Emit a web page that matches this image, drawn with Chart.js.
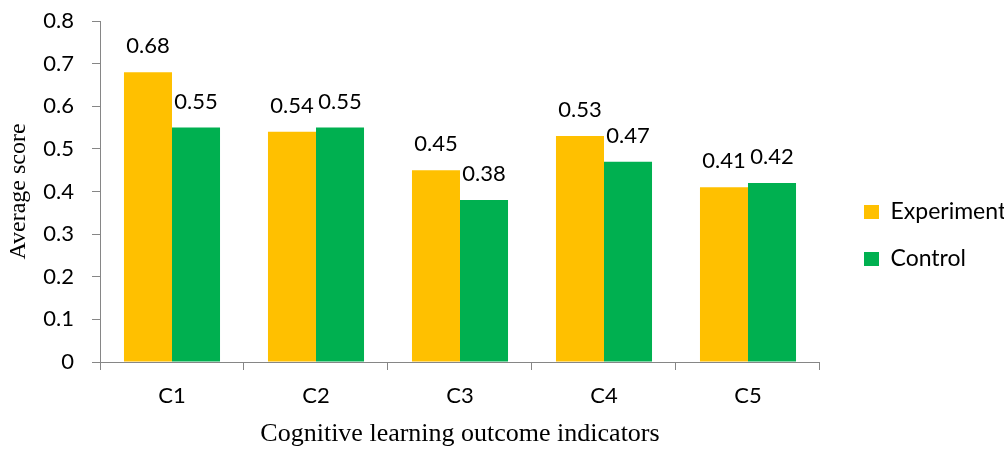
<!DOCTYPE html>
<html>
<head>
<meta charset="utf-8">
<script src="https://cdn.jsdelivr.net/npm/chart.js@4.4.1/dist/chart.umd.min.js"></script>
<style>
  html, body { margin: 0; padding: 0; background: #fff; }
  #wrap { width: 1004px; height: 450px; overflow: hidden; position: relative; }
  canvas { display: block; }
</style>
</head>
<body>
<div id="wrap"><canvas id="chart"></canvas></div>
<script>
const categories = ['C1', 'C2', 'C3', 'C4', 'C5'];
const experimental = [0.68, 0.54, 0.45, 0.53, 0.41];
const control = [0.55, 0.55, 0.38, 0.47, 0.42];
const yTicks = [0, 0.1, 0.2, 0.3, 0.4, 0.5, 0.6, 0.7, 0.8];

const AXIS = '#868686';
const SANS = 'Lato, "Open Sans", sans-serif';
const SERIF = '"Liberation Serif", "Times New Roman", serif';
const LABEL_SIZE = 22;

// legend sits on the right, its long label runs past the page edge
const legendPad = 24;
const legendLeft = 840;
const plotRight = 820;

const canvas = document.getElementById('chart');

// value labels above each bar
const valueLabels = {
    id: 'valueLabels',
    afterDatasetsDraw(chart) {
        const ctx = chart.ctx;
        ctx.save();
        ctx.font = LABEL_SIZE + 'px ' + SANS;
        ctx.fillStyle = '#000';
        ctx.textAlign = 'center';
        ctx.textBaseline = 'middle';
        chart.data.datasets.forEach((ds, i) => {
            chart.getDatasetMeta(i).data.forEach((bar, j) => {
                ctx.fillText(ds.data[j].toFixed(2), bar.x, bar.y - 26);
            });
        });
        ctx.restore();
    }
};

function build(w) {
    canvas.width = w;
    canvas.height = 450;
    canvas.style.width = w + 'px';
    canvas.style.height = '450px';
    return new Chart(canvas, {
        type: 'bar',
        data: {
            labels: categories,
            datasets: [
                { label: 'Experimental', data: experimental, backgroundColor: '#FFC000' },
                { label: 'Control', data: control, backgroundColor: '#00B050' }
            ]
        },
        options: {
            responsive: false,
            animation: false,
            categoryPercentage: 0.667,
            barPercentage: 1,
            layout: { padding: { top: 21, left: 0, right: 0, bottom: 0 } },
            plugins: {
                tooltip: { enabled: false },
                legend: {
                    position: 'right',
                    maxWidth: 400,
                    labels: {
                        color: '#000',
                        font: { family: SANS, size: 23 },
                        boxWidth: 15,
                        boxHeight: 14,
                        padding: legendPad
                    }
                }
            },
            scales: {
                x: {
                    grid: { drawOnChartArea: false, drawTicks: true, tickLength: 8, color: AXIS },
                    border: { color: AXIS },
                    ticks: { color: '#000', font: { family: SANS, size: LABEL_SIZE }, padding: 13 },
                    title: {
                        display: true,
                        text: 'Cognitive learning outcome indicators',
                        color: '#000',
                        font: { family: SERIF, size: 26 },
                        padding: { top: 0, bottom: 0 }
                    },
                    afterFit(scale) { scale.height = 88; }
                },
                y: {
                    min: 0,
                    max: 0.8,
                    afterBuildTicks(scale) { scale.ticks = yTicks.map(v => ({ value: v })); },
                    grid: { drawOnChartArea: false, drawTicks: true, tickLength: 8, color: AXIS },
                    border: { color: AXIS },
                    ticks: {
                        color: '#000',
                        font: { family: SANS, size: LABEL_SIZE },
                        padding: 18,
                        callback: v => v === 0 ? '0' : v.toFixed(1)
                    },
                    title: {
                        display: true,
                        text: 'Average score',
                        color: '#000',
                        font: { family: SERIF, size: 24 },
                        padding: { top: 4, bottom: 0 }
                    },
                    afterFit(scale) {
                        scale.width = 100;
                        scale.paddingTop = 0;
                        scale.paddingBottom = 0;
                    }
                },
                spacer: {
                    type: 'linear',
                    position: 'right',
                    grid: { display: false },
                    border: { display: false },
                    ticks: { display: false },
                    afterFit(scale) {
                        scale.width = legendLeft - plotRight;
                        scale.paddingTop = 0;
                        scale.paddingBottom = 0;
                    }
                }
            }
        },
        plugins: [valueLabels]
    });
}

let w = 1100;
let chart = build(w);
const shift = Math.round(legendLeft - chart.legend.left);
if (shift !== 0) {
    chart.destroy();
    chart = build(w + shift);
}
</script>
</body>
</html>
